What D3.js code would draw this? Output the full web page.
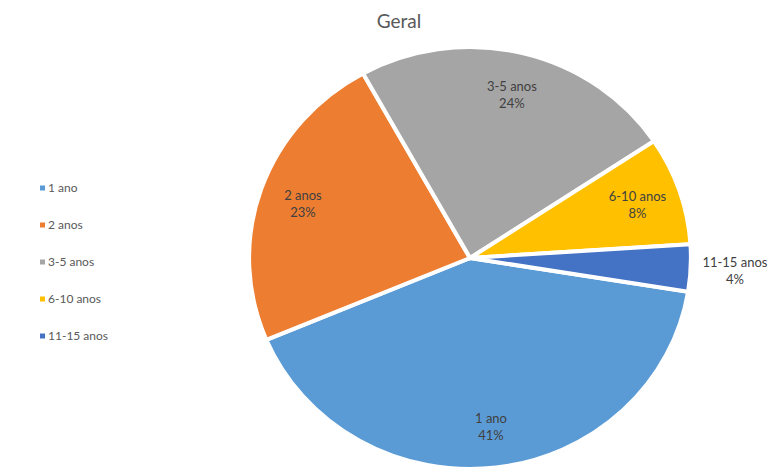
<!DOCTYPE html>
<html>
<head>
<meta charset="utf-8">
<script src="https://cdn.jsdelivr.net/npm/d3@7"></script>
<style>
  body { margin: 0; background: #fff; }
  svg { display: block; }
</style>
</head>
<body>
<div id="chart"></div>
<script>
// data (percent of total)
const categories = ["1 ano", "2 anos", "3-5 anos", "6-10 anos", "11-15 anos"];
const values = [41.1, 23.3, 23.7, 8.3, 3.6];
const colors = ["#5b9bd5", "#ed7d31", "#a5a5a5", "#ffc000", "#4472c4"];
const title = "Geral";

const width = 779, height = 468;
const cx = 470, cy = 258;
const rx = 221, ry = 211;
const firstSliceAngle = 99.2; // degrees, clockwise from 12 o'clock

const svg = d3.select("#chart").append("svg")
    .attr("width", width)
    .attr("height", height)
    .style("font-family", "Lato, 'Open Sans', sans-serif");

svg.append("text")
    .attr("x", 399)
    .attr("y", 28)
    .attr("text-anchor", "middle")
    .attr("font-size", 19)
    .attr("fill", "#595959")
    .text(title);

const data = categories.map((c, i) => ({name: c, value: values[i], color: colors[i]}));
const total = d3.sum(values);

const start = firstSliceAngle * Math.PI / 180;
const pie = d3.pie()
    .sort(null)
    .value(d => d.value)
    .startAngle(start)
    .endAngle(start + 2 * Math.PI);

const arcs = pie(data);

const arc = d3.arc().innerRadius(0).outerRadius(ry);

// pie is slightly wider than tall in the picture
const g = svg.append("g")
    .attr("transform", `translate(${cx},${cy}) scale(${rx / ry},1)`);

g.selectAll("path")
  .data(arcs)
  .join("path")
    .attr("d", arc)
    .attr("fill", d => d.data.color)
    .attr("stroke", "#fff")
    .attr("stroke-width", 4)
    .attr("stroke-linejoin", "miter");

// labels: inside for big slices, outside for the small one
const labelArc = d3.arc().innerRadius(ry * 0.8).outerRadius(ry * 0.8);
const outerArc = d3.arc().innerRadius(ry * 1.2).outerRadius(ry * 1.2);

const labels = svg.append("g")
    .attr("font-size", 13)
    .attr("fill", "#404040")
    .attr("text-anchor", "middle")
  .selectAll("text")
  .data(arcs)
  .join("text")
    .attr("transform", d => {
      const p = (d.data.value / total < 0.05 ? outerArc : labelArc).centroid(d);
      return `translate(${cx + p[0] * rx / ry},${cy + p[1]})`;
    });

labels.append("tspan")
    .attr("x", 0)
    .attr("dy", "-0.2em")
    .text(d => d.data.name);

labels.append("tspan")
    .attr("x", 0)
    .attr("dy", "1.3em")
    .text(d => Math.round(d.data.value / total * 100) + "%");

// legend
const legend = svg.append("g")
    .attr("transform", "translate(40,188)")
  .selectAll("g")
  .data(data)
  .join("g")
    .attr("transform", (d, i) => `translate(0,${i * 37})`);

legend.append("rect")
    .attr("x", 0)
    .attr("y", -2.5)
    .attr("width", 5)
    .attr("height", 5)
    .attr("fill", d => d.color);

legend.append("text")
    .attr("x", 8)
    .attr("dy", "0.35em")
    .attr("font-size", 12)
    .attr("fill", "#595959")
    .text(d => d.name);
</script>
</body>
</html>
